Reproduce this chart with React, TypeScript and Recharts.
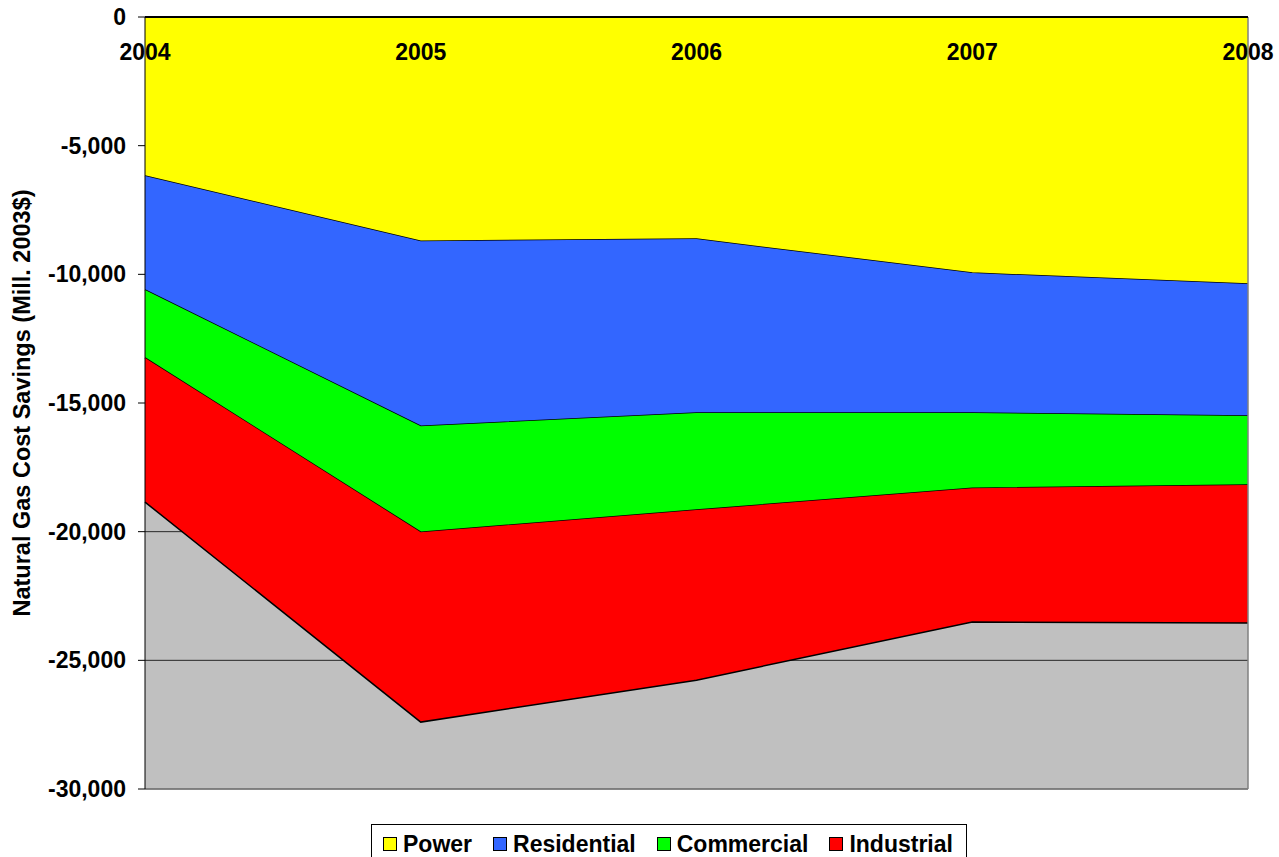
import React from 'react';
import { AreaChart, Area, XAxis, YAxis, CartesianGrid, Legend, ReferenceLine } from 'recharts';

const years = ['2004', '2005', '2006', '2007', '2008'];
const power = [-6180, -8710, -8630, -9950, -10380];
const residential = [-4430, -7190, -6760, -5440, -5130];
const commercial = [-2640, -4120, -3770, -2920, -2680];
const industrial = [-5600, -7380, -6610, -5200, -5360];
const yTicks = [0, -5000, -10000, -15000, -20000, -25000, -30000];
const yTitle = 'Natural Gas Cost Savings (Mill. 2003$)';

const series = [
  { key: 'Power', values: power, color: '#FFFF00' },
  { key: 'Residential', values: residential, color: '#3366FF' },
  { key: 'Commercial', values: commercial, color: '#00FF00' },
  { key: 'Industrial', values: industrial, color: '#FF0000' },
];

const data = years.map((year, i) => {
  const row: Record<string, any> = { year };
  series.forEach((s) => {
    row[s.key] = s.values[i];
  });
  return row;
});

const FONT = '"Liberation Sans", Arial, sans-serif';

const XTick = (props: any) => {
  const { x, y, payload } = props;
  return (
    <text
      x={x}
      y={y}
      dy={35}
      textAnchor="middle"
      dominantBaseline="central"
      fontFamily={FONT}
      fontWeight="bold"
      fontSize={23}
      fill="#000"
    >
      {payload.value}
    </text>
  );
};

const YTitle = (props: any) => {
  const vb = props.viewBox || {};
  const cx = 22;
  const cy = vb.y + vb.height / 2;
  return (
    <text
      x={cx}
      y={cy}
      transform={`rotate(-90, ${cx}, ${cy})`}
      textAnchor="middle"
      dominantBaseline="central"
      fontFamily={FONT}
      fontWeight="bold"
      fontSize={23.5}
      fill="#000"
    >
      {yTitle}
    </text>
  );
};

const LegendContent = () => (
  <div
    style={{
      boxSizing: 'border-box',
      border: '1px solid #000',
      background: '#fff',
      width: '100%',
      height: '100%',
      display: 'flex',
      alignItems: 'center',
      paddingLeft: 11,
      fontFamily: FONT,
      fontWeight: 'bold',
      fontSize: 23,
      color: '#000',
    }}
  >
    {series.map((s) => (
      <div key={s.key} style={{ display: 'flex', alignItems: 'center', marginRight: 21 }}>
        <span
          style={{
            display: 'inline-block',
            boxSizing: 'border-box',
            width: 14,
            height: 14,
            background: s.color,
            border: '1.5px solid #000',
            marginRight: 6,
          }}
        />
        <span>{s.key}</span>
      </div>
    ))}
  </div>
);

export default function App() {
  return (
    <div style={{ position: 'absolute', left: 0, top: 0, width: 1279, height: 857, background: '#fff' }}>
      <AreaChart
        width={1279}
        height={857}
        data={data}
        margin={{ top: 0, right: 31, bottom: 68, left: 0 }}
      >
        <CartesianGrid fill="#C0C0C0" vertical={false} stroke="#000" strokeOpacity={0.8} />
        <XAxis
          dataKey="year"
          orientation="top"
          height={17}
          tickLine={false}
          tickSize={0}
          tickMargin={0}
          axisLine={{ stroke: '#000', strokeWidth: 2 }}
          tick={(p: any) => <XTick {...p} />}
          interval={0}
        />
        <YAxis
          width={145}
          domain={[-30000, 0]}
          ticks={yTicks}
          interval={0}
          tickSize={7}
          tickMargin={12}
          tickLine={{ stroke: '#000' }}
          axisLine={{ stroke: '#000' }}
          tickFormatter={(v: number) => v.toLocaleString('en-US')}
          tick={{ fontFamily: FONT, fontWeight: 'bold', fontSize: 23, fill: '#000' }}
          label={<YTitle />}
        />
        <ReferenceLine x="2008" stroke="#808080" strokeWidth={1.5} />
        <ReferenceLine y={-30000} stroke="#808080" strokeWidth={1.5} />
        {series.map((s) => (
          <Area
            key={s.key}
            type="linear"
            dataKey={s.key}
            stackId="1"
            fill={s.color}
            fillOpacity={1}
            stroke="#000"
            strokeWidth={1.5}
            isAnimationActive={false}
            dot={false}
            activeDot={false}
          />
        ))}
        <Legend
          verticalAlign="middle"
          align="center"
          layout="horizontal"
          wrapperStyle={{ position: 'absolute', left: 371, top: 824, width: 596, height: 40 }}
          content={<LegendContent />}
        />
      </AreaChart>
    </div>
  );
}
